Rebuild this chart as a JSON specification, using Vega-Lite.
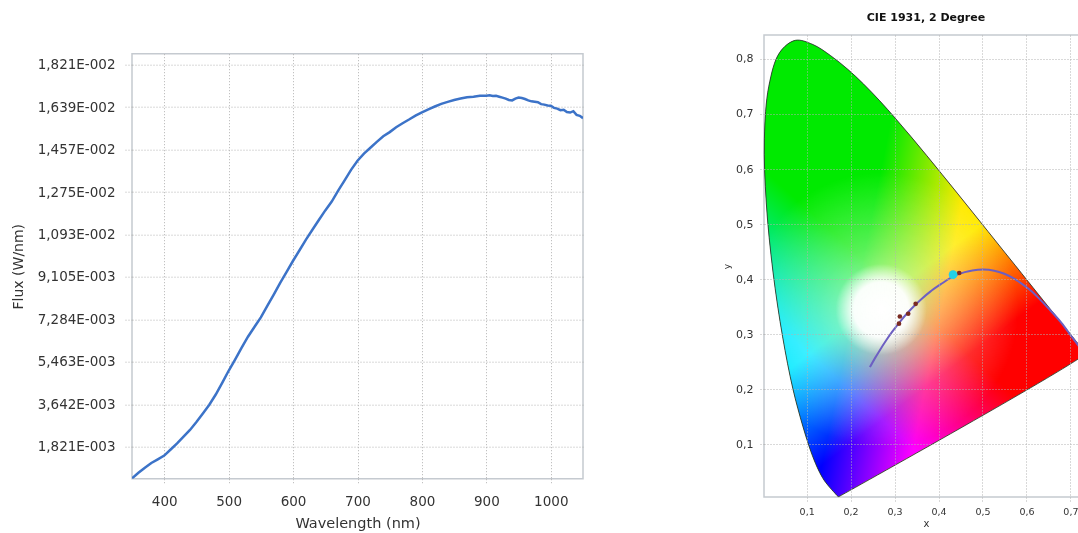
{
  "$schema": "https://vega.github.io/schema/vega-lite/v6.json",
  "padding": {"left": 10, "top": 11, "right": 0, "bottom": 0},
  "background": "white",
  "spacing": 137,
  "datasets": {
    "flux": [
      {"wl": 350, "flux": 0.00046}, {"wl": 360, "flux": 0.0007}, {"wl": 370, "flux": 0.00092}, {"wl": 380, "flux": 0.00112},
      {"wl": 390, "flux": 0.00128}, {"wl": 400, "flux": 0.00144}, {"wl": 410, "flux": 0.0017}, {"wl": 420, "flux": 0.00196},
      {"wl": 430, "flux": 0.00225}, {"wl": 440, "flux": 0.00254}, {"wl": 450, "flux": 0.00288}, {"wl": 460, "flux": 0.00325},
      {"wl": 470, "flux": 0.00362}, {"wl": 480, "flux": 0.00406}, {"wl": 490, "flux": 0.00456}, {"wl": 500, "flux": 0.00508},
      {"wl": 510, "flux": 0.00556}, {"wl": 520, "flux": 0.00606}, {"wl": 530, "flux": 0.00654}, {"wl": 540, "flux": 0.00696},
      {"wl": 550, "flux": 0.00737}, {"wl": 560, "flux": 0.00786}, {"wl": 570, "flux": 0.00835}, {"wl": 580, "flux": 0.00885},
      {"wl": 590, "flux": 0.00932}, {"wl": 600, "flux": 0.0098}, {"wl": 610, "flux": 0.01025}, {"wl": 620, "flux": 0.01071},
      {"wl": 630, "flux": 0.01113}, {"wl": 640, "flux": 0.01155}, {"wl": 650, "flux": 0.01196}, {"wl": 660, "flux": 0.01234},
      {"wl": 670, "flux": 0.01281}, {"wl": 680, "flux": 0.01325}, {"wl": 690, "flux": 0.0137}, {"wl": 700, "flux": 0.01409},
      {"wl": 710, "flux": 0.0144}, {"wl": 720, "flux": 0.01465}, {"wl": 730, "flux": 0.0149}, {"wl": 740, "flux": 0.01514},
      {"wl": 750, "flux": 0.01532}, {"wl": 760, "flux": 0.01553}, {"wl": 770, "flux": 0.0157}, {"wl": 780, "flux": 0.01586},
      {"wl": 790, "flux": 0.01603}, {"wl": 800, "flux": 0.01617}, {"wl": 810, "flux": 0.0163}, {"wl": 820, "flux": 0.01642},
      {"wl": 830, "flux": 0.01653}, {"wl": 840, "flux": 0.01662}, {"wl": 850, "flux": 0.0167}, {"wl": 860, "flux": 0.01676},
      {"wl": 870, "flux": 0.01682}, {"wl": 880, "flux": 0.01684}, {"wl": 890, "flux": 0.01688}, {"wl": 900, "flux": 0.01688},
      {"wl": 905, "flux": 0.0169}, {"wl": 910, "flux": 0.01687}, {"wl": 915, "flux": 0.01688}, {"wl": 920, "flux": 0.01684},
      {"wl": 925, "flux": 0.0168}, {"wl": 930, "flux": 0.01676}, {"wl": 935, "flux": 0.0167}, {"wl": 940, "flux": 0.01668},
      {"wl": 945, "flux": 0.01676}, {"wl": 950, "flux": 0.0168}, {"wl": 955, "flux": 0.01678}, {"wl": 960, "flux": 0.01674},
      {"wl": 965, "flux": 0.01668}, {"wl": 970, "flux": 0.01664}, {"wl": 975, "flux": 0.01662}, {"wl": 980, "flux": 0.0166},
      {"wl": 985, "flux": 0.01652}, {"wl": 990, "flux": 0.0165}, {"wl": 995, "flux": 0.01646}, {"wl": 1000, "flux": 0.01645},
      {"wl": 1005, "flux": 0.01636}, {"wl": 1010, "flux": 0.01633}, {"wl": 1015, "flux": 0.01626}, {"wl": 1020, "flux": 0.01628},
      {"wl": 1025, "flux": 0.01618}, {"wl": 1030, "flux": 0.01616}, {"wl": 1035, "flux": 0.01622}, {"wl": 1040, "flux": 0.01606},
      {"wl": 1045, "flux": 0.01602}, {"wl": 1050, "flux": 0.01592}
    ],
    "locus": [
      {"i": 1, "x": 0.1741, "y": 0.005}, {"i": 2, "x": 0.1726, "y": 0.0048}, {"i": 3, "x": 0.1714, "y": 0.0051},
      {"i": 4, "x": 0.1689, "y": 0.0069}, {"i": 5, "x": 0.1644, "y": 0.0109}, {"i": 6, "x": 0.1566, "y": 0.0177},
      {"i": 7, "x": 0.144, "y": 0.0297}, {"i": 8, "x": 0.1355, "y": 0.0399}, {"i": 9, "x": 0.1241, "y": 0.0578},
      {"i": 10, "x": 0.1096, "y": 0.0868}, {"i": 11, "x": 0.0913, "y": 0.1327}, {"i": 12, "x": 0.0687, "y": 0.2007},
      {"i": 13, "x": 0.0454, "y": 0.295}, {"i": 14, "x": 0.0235, "y": 0.4127}, {"i": 15, "x": 0.0082, "y": 0.5384},
      {"i": 16, "x": 0.0039, "y": 0.6548}, {"i": 17, "x": 0.0139, "y": 0.7502}, {"i": 18, "x": 0.0389, "y": 0.812},
      {"i": 19, "x": 0.0743, "y": 0.8338}, {"i": 20, "x": 0.1142, "y": 0.8262}, {"i": 21, "x": 0.1547, "y": 0.8059},
      {"i": 22, "x": 0.1929, "y": 0.7816}, {"i": 23, "x": 0.2296, "y": 0.7543}, {"i": 24, "x": 0.2658, "y": 0.7243},
      {"i": 25, "x": 0.3016, "y": 0.6923}, {"i": 26, "x": 0.3373, "y": 0.6589}, {"i": 27, "x": 0.3731, "y": 0.6245},
      {"i": 28, "x": 0.4087, "y": 0.5896}, {"i": 29, "x": 0.4441, "y": 0.5547}, {"i": 30, "x": 0.4788, "y": 0.5202},
      {"i": 31, "x": 0.5125, "y": 0.4866}, {"i": 32, "x": 0.5448, "y": 0.4544}, {"i": 33, "x": 0.5752, "y": 0.4242},
      {"i": 34, "x": 0.6029, "y": 0.3965}, {"i": 35, "x": 0.627, "y": 0.3725}, {"i": 36, "x": 0.6482, "y": 0.3514},
      {"i": 37, "x": 0.6658, "y": 0.334}, {"i": 38, "x": 0.6915, "y": 0.3083}, {"i": 39, "x": 0.7079, "y": 0.292},
      {"i": 40, "x": 0.719, "y": 0.2809}, {"i": 41, "x": 0.726, "y": 0.274}, {"i": 42, "x": 0.7334, "y": 0.2666},
      {"i": 43, "x": 0.7347, "y": 0.2653}, {"i": 44, "x": 0.1741, "y": 0.005}
    ],
    "planck": [
      {"i": 1, "x": 0.244, "y": 0.24}, {"i": 2, "x": 0.2565, "y": 0.2577}, {"i": 3, "x": 0.2637, "y": 0.2672},
      {"i": 4, "x": 0.2807, "y": 0.2884}, {"i": 5, "x": 0.2952, "y": 0.3048}, {"i": 6, "x": 0.3135, "y": 0.3237},
      {"i": 7, "x": 0.3324, "y": 0.341}, {"i": 8, "x": 0.3451, "y": 0.3516}, {"i": 9, "x": 0.3608, "y": 0.3635},
      {"i": 10, "x": 0.3805, "y": 0.3768}, {"i": 11, "x": 0.4053, "y": 0.3907}, {"i": 12, "x": 0.4369, "y": 0.4061},
      {"i": 13, "x": 0.4599, "y": 0.4126}, {"i": 14, "x": 0.477, "y": 0.4157}, {"i": 15, "x": 0.5018, "y": 0.4173},
      {"i": 16, "x": 0.5267, "y": 0.4153}, {"i": 17, "x": 0.5497, "y": 0.4096}, {"i": 18, "x": 0.5729, "y": 0.4003},
      {"i": 19, "x": 0.5857, "y": 0.3936}, {"i": 20, "x": 0.6117, "y": 0.3777}, {"i": 21, "x": 0.6249, "y": 0.3676},
      {"i": 22, "x": 0.6528, "y": 0.3444}, {"i": 23, "x": 0.68, "y": 0.32}, {"i": 24, "x": 0.705, "y": 0.293},
      {"i": 25, "x": 0.73, "y": 0.267}
    ],
    "pts": [
      {"x": 0.312, "y": 0.332, "kind": "m"}, {"x": 0.31, "y": 0.319, "kind": "m"}, {"x": 0.331, "y": 0.337, "kind": "m"},
      {"x": 0.348, "y": 0.355, "kind": "m"}, {"x": 0.447, "y": 0.411, "kind": "m"}, {"x": 0.433, "y": 0.408, "kind": "c"}
    ],
    "blank": [{"k": 1}]
  },
  "hconcat": [
    {
      "spacing": 13.7,
      "vconcat": [
        {
          "width": 451,
          "height": 1,
          "view": {"stroke": null},
          "data": {"name": "blank"},
          "mark": {"type": "point", "opacity": 0},
          "encoding": {}
        },
        {
          "width": 451,
          "height": 425,
          "data": {"name": "flux"},
          "mark": {"type": "line", "color": "#3c73c8", "strokeWidth": 2.5, "clip": true},
          "encoding": {
            "x": {
              "field": "wl", "type": "quantitative", "title": "Wavelength (nm)",
              "scale": {"domain": [350, 1050], "nice": false, "zero": false},
              "axis": {"values": [400, 500, 600, 700, 800, 900, 1000], "format": "d", "labelFontSize": 13.5, "titleFontSize": 14.5,
                       "tickSize": 6, "labelPadding": 10, "titlePadding": 8}
            },
            "y": {
              "field": "flux", "type": "quantitative", "title": "Flux (W/nm)",
              "scale": {"domain": [0.000448, 0.018685], "nice": false, "zero": false},
              "axis": {
                "values": [0.00182105, 0.0036421, 0.00546315, 0.0072842, 0.00910525, 0.0109263, 0.01274735, 0.0145684, 0.01638945, 0.0182105],
                "labelExpr": "replace(format(datum.value / pow(10, floor(log(datum.value) / LN10)), '.3f'), '.', ',') + 'E-' + format(-floor(log(datum.value) / LN10), '03d')",
                "labelFontSize": 13.5, "titleFontSize": 14, "tickSize": 8, "labelPadding": 9, "titlePadding": 12
              }
            }
          }
        }
      ]
    },
    {
      "width": 324,
      "height": 462,
      "title": {"text": "CIE 1931, 2 Degree", "fontSize": 11, "fontWeight": "bold", "color": "#111111", "offset": 12},
      "encoding": {
        "x": {
          "field": "x", "type": "quantitative", "title": "x",
          "scale": {"domain": [0.003, 0.74], "nice": false, "zero": false},
          "axis": {"values": [0.1, 0.2, 0.3, 0.4, 0.5, 0.6, 0.7], "labelExpr": "replace(format(datum.value, '.1f'), '.', ',')",
                   "labelFontSize": 9.5, "titleFontSize": 10, "tickSize": 4, "labelPadding": 5, "titlePadding": 3, "zindex": 1}
        },
        "y": {
          "field": "y", "type": "quantitative", "title": "y",
          "scale": {"domain": [0.004, 0.8435], "nice": false, "zero": false},
          "axis": {"values": [0.1, 0.2, 0.3, 0.4, 0.5, 0.6, 0.7, 0.8], "labelExpr": "replace(format(datum.value, '.1f'), '.', ',')",
                   "labelFontSize": 11, "titleFontSize": 9, "tickSize": 4, "labelPadding": 7, "titlePadding": 4, "zindex": 1}
        },
        "order": {"field": "i", "type": "quantitative"}
      },
      "layer": [
        {
          "data": {"name": "locus"},
          "mark": {"type": "line", "interpolate": "catmull-rom", "strokeOpacity": 0, "fill": {"gradient": "linear", "x1": 0, "y1": 0, "x2": 1.058, "y2": 0.3,
            "stops": [{"offset": 0, "color": "#000000"}, {"offset": 0.388, "color": "#000000"}, {"offset": 0.628, "color": "#ff0000"}, {"offset": 1, "color": "#ff0000"}]}}
        },
        {
          "data": {"name": "locus"},
          "mark": {"type": "line", "interpolate": "catmull-rom", "strokeOpacity": 0, "blend": "screen", "fill": {"gradient": "linear", "x1": 1, "y1": 1, "x2": 0.439, "y2": -0.061,
            "stops": [{"offset": 0, "color": "#000000"}, {"offset": 0.37, "color": "#000000"}, {"offset": 0.565, "color": "#00ea00"}, {"offset": 1, "color": "#00ea00"}]}}
        },
        {
          "data": {"name": "locus"},
          "mark": {"type": "line", "interpolate": "catmull-rom", "strokeOpacity": 0, "blend": "screen", "fill": {"gradient": "linear", "x1": 0, "y1": 1, "x2": 0.643, "y2": -0.013,
            "stops": [{"offset": 0, "color": "#0000ff"}, {"offset": 0.282, "color": "#0000ff"}, {"offset": 0.503, "color": "#000000"}, {"offset": 1, "color": "#000000"}]}}
        },
        {
          "data": {"name": "locus"},
          "mark": {"type": "line", "interpolate": "catmull-rom", "strokeOpacity": 0, "fill": {"gradient": "radial", "x1": 0.404, "y1": 0.59, "r1": 0, "x2": 0.404, "y2": 0.59, "r2": 0.3,
            "stops": [{"offset": 0, "color": "rgba(255,255,255,0.7)"}, {"offset": 0.45, "color": "rgba(255,255,255,0.35)"}, {"offset": 1, "color": "rgba(255,255,255,0)"}]}}
        },
        {
          "data": {"name": "locus"},
          "mark": {"type": "line", "interpolate": "catmull-rom", "strokeOpacity": 0, "fill": {"gradient": "radial", "x1": 0.404, "y1": 0.59, "r1": 0, "x2": 0.404, "y2": 0.59, "r2": 0.1,
            "stops": [{"offset": 0, "color": "rgba(255,255,255,1)"}, {"offset": 0.6, "color": "rgba(255,255,255,0.95)"}, {"offset": 1, "color": "rgba(255,255,255,0)"}]}}
        },
        {
          "data": {"name": "locus"},
          "mark": {"type": "line", "interpolate": "catmull-rom", "color": "#1d3320", "strokeWidth": 1, "strokeOpacity": 0.8}
        },
        {
          "data": {"name": "planck"},
          "mark": {"type": "line", "interpolate": "monotone", "color": "#6d5fc2", "strokeWidth": 2}
        },
        {
          "data": {"name": "pts"},
          "transform": [{"filter": "datum.kind == 'm'"}],
          "mark": {"type": "circle", "color": "#7a2b22", "size": 22, "opacity": 1}
        },
        {
          "data": {"name": "pts"},
          "transform": [{"filter": "datum.kind == 'c'"}],
          "mark": {"type": "circle", "color": "#22d0e8", "size": 75, "opacity": 1}
        }
      ]
    }
  ],
  "config": {
    "view": {"stroke": "#c5cad0", "strokeWidth": 1.5},
    "axis": {"domain": false, "grid": true, "gridDash": [1, 2], "gridColor": "#b3b3b3", "tickDash": [1, 2], "tickColor": "#b3b3b3",
             "labelFont": "DejaVu Sans", "titleFont": "DejaVu Sans", "labelColor": "#333333", "titleColor": "#333333", "titleFontWeight": "normal"},
    "title": {"font": "DejaVu Sans"}
  }
}
